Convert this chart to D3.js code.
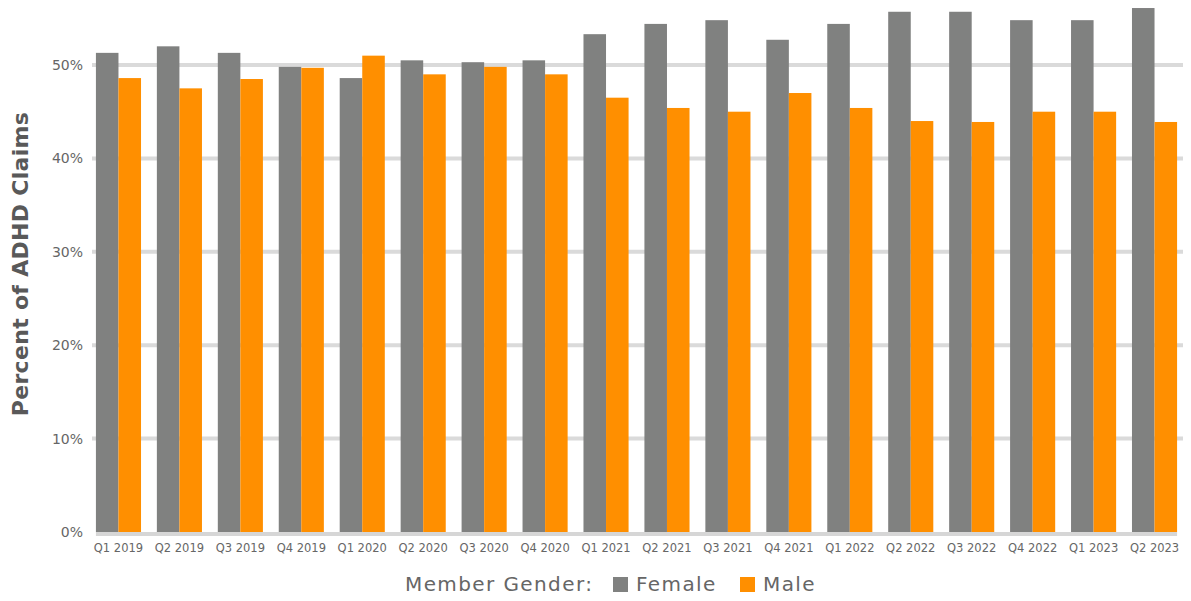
<!DOCTYPE html>
<meta charset="utf-8">
<style>
body { margin: 0; background: #fff; }
text { font-family: "DejaVu Sans", sans-serif; }
.grid line { stroke: #dadada; stroke-width: 4; }
.tick-lbl { fill: #666; font-size: 14px; }
.xlbl { fill: #666; font-size: 11.5px; }
.ytitle { fill: #595959; font-size: 22px; font-weight: bold; letter-spacing: 0.3px; }
.legend text { fill: #666; font-size: 20px; letter-spacing: 1.4px; }
</style>
<svg width="1191" height="601"></svg>
<script src="https://cdn.jsdelivr.net/npm/d3@7"></script>
<script>

var quarters = ["Q1 2019","Q2 2019","Q3 2019","Q4 2019","Q1 2020","Q2 2020","Q3 2020","Q4 2020",
                "Q1 2021","Q2 2021","Q3 2021","Q4 2021","Q1 2022","Q2 2022","Q3 2022","Q4 2022",
                "Q1 2023","Q2 2023"];
var female = [51.3, 52.0, 51.3, 49.8, 48.6, 50.5, 50.3, 50.5, 53.3, 54.4, 54.8, 52.7,
              54.4, 55.7, 55.7, 54.8, 54.8, 56.1];
var male   = [48.6, 47.5, 48.5, 49.7, 51.0, 49.0, 49.8, 49.0, 46.5, 45.4, 45.0, 47.0,
              45.4, 44.0, 43.9, 45.0, 45.0, 43.9];
var yTicks = [0, 10, 20, 30, 40, 50];
var seriesNames = ["Female", "Male"];
var colors = ["#808180", "#ff8f00"];

var svg = d3.select("svg");

var x = d3.scaleBand().domain(quarters).range([88, 1185]).paddingInner(0.26).paddingOuter(0.13);
var xs = d3.scaleBand().domain(seriesNames).range([0, x.bandwidth()]);
var y = d3.scaleLinear().domain([0, 50]).range([532, 65]);

// gridlines
svg.append("g").attr("class", "grid")
  .selectAll("line")
  .data(yTicks.filter(function(d) { return d > 0; }))
  .enter().append("line")
    .attr("x1", 92).attr("x2", 1183)
    .attr("y1", function(d) { return y(d); })
    .attr("y2", function(d) { return y(d); });

svg.selectAll(".tick-lbl")
  .data(yTicks)
  .enter().append("text")
    .attr("class", "tick-lbl")
    .attr("x", 83)
    .attr("y", function(d) { return y(d); })
    .attr("dy", "0.35em")
    .attr("text-anchor", "end")
    .text(function(d) { return d + "%"; });

var groups = svg.selectAll(".grp")
  .data(quarters)
  .enter().append("g")
    .attr("class", "grp")
    .attr("transform", function(d) { return "translate(" + x(d) + ",0)"; });

groups.selectAll("rect")
  .data(function(d, i) { return [female[i], male[i]]; })
  .enter().append("rect")
    .attr("x", function(d, j) { return xs(seriesNames[j]); })
    .attr("width", xs.bandwidth())
    .attr("y", function(d) { return y(d); })
    .attr("height", function(d) { return y(0) - y(d); })
    .attr("fill", function(d, j) { return colors[j]; });

// baseline
svg.append("line")
  .attr("x1", x(quarters[0])).attr("x2", x(quarters[quarters.length - 1]) + x.bandwidth())
  .attr("y1", y(0) + 2).attr("y2", y(0) + 2)
  .attr("stroke", "#d6d6d6").attr("stroke-width", 4);

svg.selectAll(".xlbl")
  .data(quarters)
  .enter().append("text")
    .attr("class", "xlbl")
    .attr("x", function(d) { return x(d) + x.bandwidth() / 2; })
    .attr("y", 552)
    .attr("text-anchor", "middle")
    .text(function(d) { return d; });

svg.append("text")
  .attr("class", "ytitle")
  .attr("transform", "translate(28,264) rotate(-90)")
  .attr("text-anchor", "middle")
  .text("Percent of ADHD Claims");

// legend
var legend = svg.append("g").attr("class", "legend");
legend.append("text").attr("x", 405).attr("y", 591).text("Member Gender:");
var legX = [613, 740];
seriesNames.forEach(function(name, i) {
  legend.append("rect").attr("x", legX[i]).attr("y", 577).attr("width", 15).attr("height", 15).attr("fill", colors[i]);
  legend.append("text").attr("x", legX[i] + 23).attr("y", 591).text(name);
});

</script>
